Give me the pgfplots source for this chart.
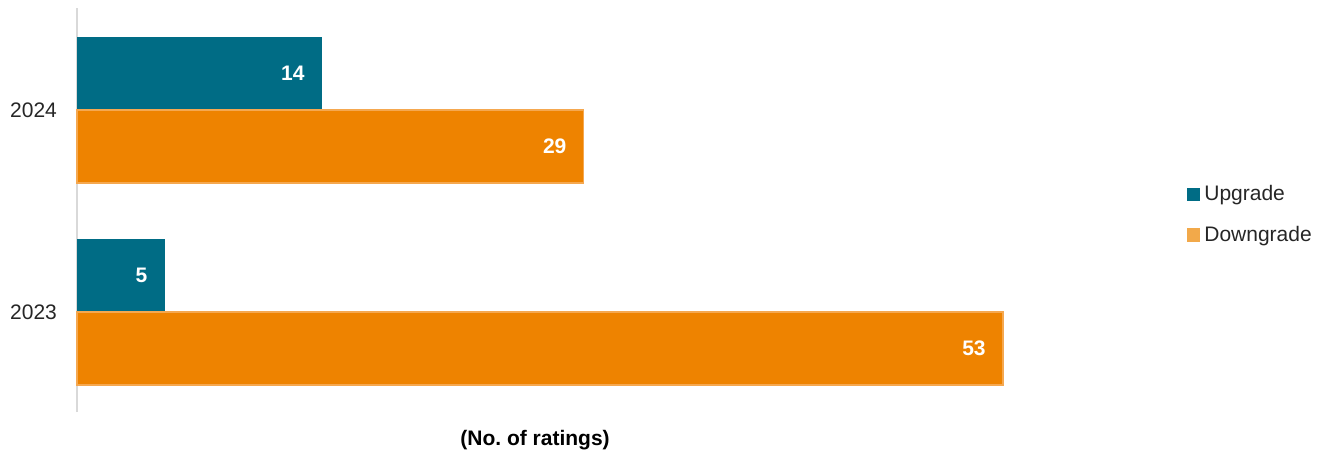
\documentclass[border=0pt]{standalone}
\usepackage{fontspec}
\setmainfont{Liberation Sans}
\usepackage{pgfplots}
\pgfplotsset{compat=1.18}
\definecolor{teal}{HTML}{006C85}
\definecolor{orng}{HTML}{EE8300}
\definecolor{orngedge}{HTML}{F5A850}
\definecolor{orngleg}{HTML}{F2A94A}
\begin{document}
\begin{tikzpicture}
\begin{axis}[
  at={(38.5pt,22pt)}, anchor=south west,
  scale only axis,
  width=524.1pt, height=202pt,
  xmin=0, xmax=60,
  ymin=-0.495, ymax=1.505,
  xbar, bar width=36.5pt,
  axis x line=none,
  axis y line=left,
  y axis line style={-, draw=black!15, line width=0.6pt},
  ytick={0,1}, yticklabels={2023,2024},
  major tick length=0pt,
  yticklabel style={font=\fontsize{10.5}{12}\selectfont, text=black!85, xshift=-6.5pt},
  /pgf/number format/assume math mode=true,
  nodes near coords,
  every node near coord/.append style={anchor=east, xshift=-5pt, text=white, font=\fontsize{10.5}{12}\selectfont\bfseries},
  legend style={at={(rel axis cs:1.053,0.488)}, anchor=west, draw=none, fill=none,
    font=\fontsize{10.5}{12}\selectfont, text=black!85, row sep=7pt,
    legend cell align=left},
  clip=false,
]
\addplot+[bar shift=18.25pt, fill=teal, draw=teal, line width=0.4pt,
  legend image code/.code={\fill[teal] (0pt,-3pt) rectangle (6pt,3pt);}]
  coordinates {(5,0) (14,1)};
\addlegendentry{Upgrade}
\addplot+[bar shift=-18.25pt, fill=orng, draw=orngedge, line width=0.6pt,
  legend image code/.code={\fill[orngleg] (0pt,-3pt) rectangle (6pt,3pt);}]
  coordinates {(53,0) (29,1)};
\addlegendentry{Downgrade}
\node[font=\fontsize{10.5}{12}\selectfont\bfseries, anchor=center] at (rel axis cs:0.437,0) [yshift=-14pt] {(No.\ of ratings)};
\end{axis}
\pgfresetboundingbox
\path (0,0) rectangle (662.5pt,228pt);
\end{tikzpicture}
\end{document}
